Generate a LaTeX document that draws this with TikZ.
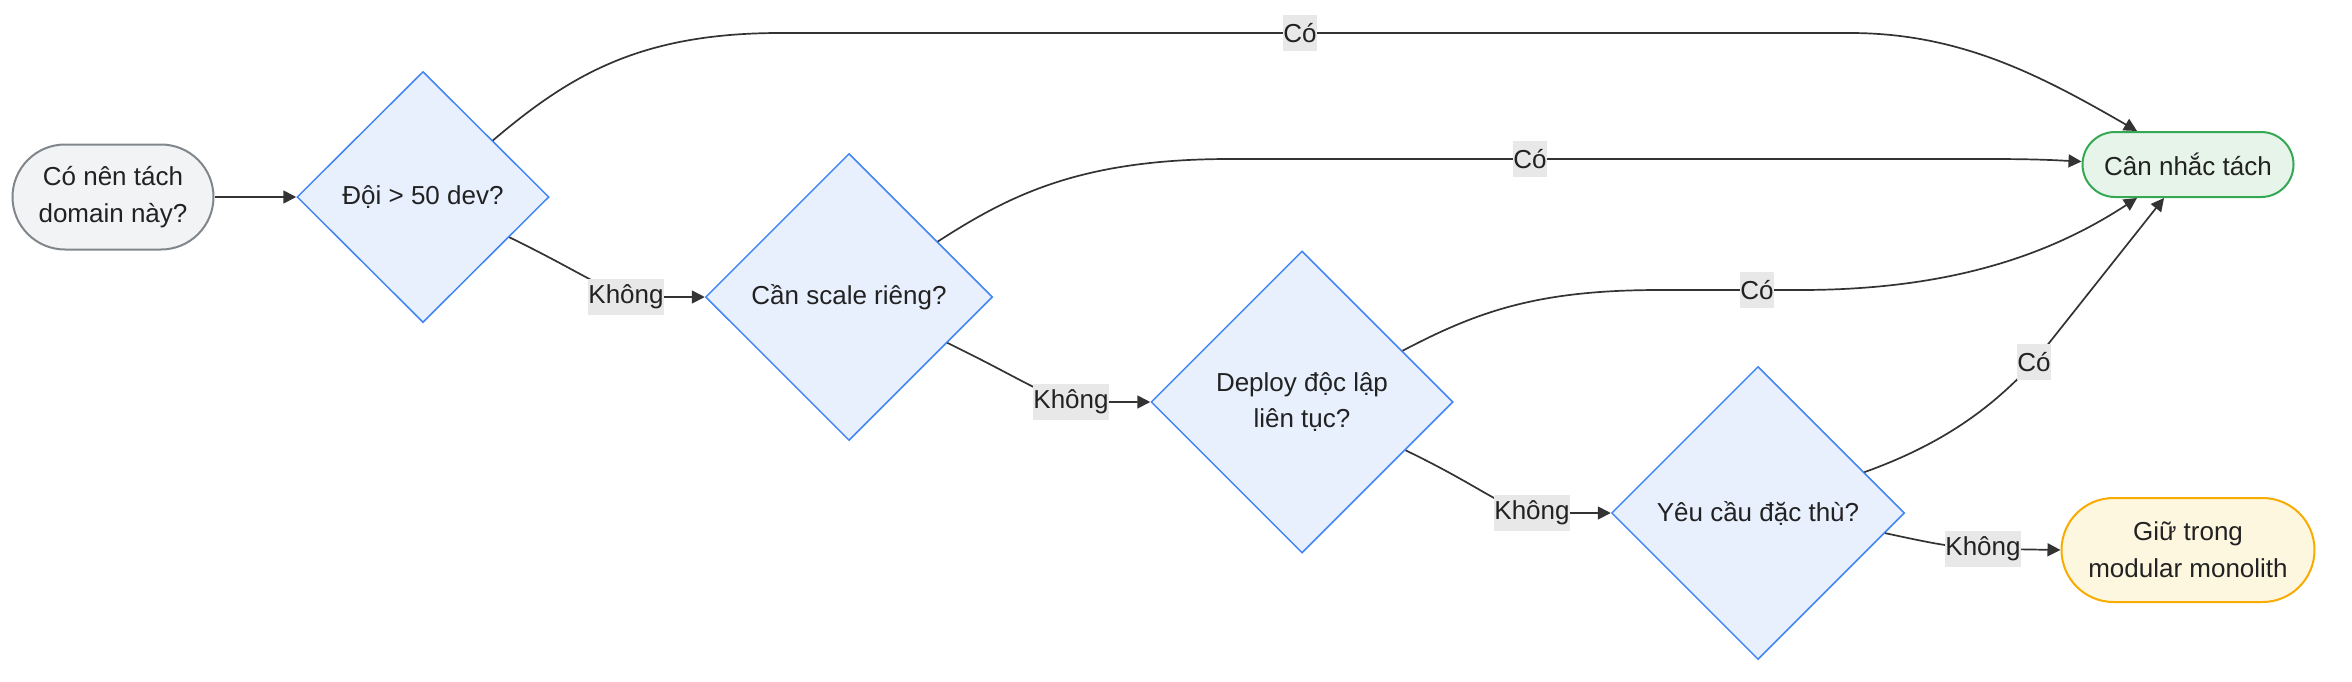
\documentclass[tikz,border=0pt]{standalone}
\usepackage{fontspec}
\setmainfont{Liberation Sans}
\usetikzlibrary{shapes.geometric,arrows.meta,calc}
\definecolor{textc}{HTML}{222222}
\definecolor{edgec}{HTML}{333333}
\definecolor{diafill}{HTML}{E8F0FE}
\definecolor{diadraw}{HTML}{4285F4}
\definecolor{startfill}{HTML}{F1F3F4}
\definecolor{startdraw}{HTML}{80868B}
\definecolor{yesfill}{HTML}{E6F4EA}
\definecolor{yesdraw}{HTML}{34A853}
\definecolor{keepfill}{HTML}{FEF7E0}
\definecolor{keepdraw}{HTML}{F9AB00}
\definecolor{labelbg}{HTML}{E8E8E8}
\begin{document}
\begin{tikzpicture}[x=0.5pt,y=-0.5pt,
  every node/.style={text=textc, font=\fontsize{13}{18.4}\selectfont, align=center},
  dia/.style={diamond, draw=diadraw, fill=diafill, line width=0.75pt, inner sep=0pt, shape aspect=1},
  stad/.style={rectangle, line width=1pt, inner sep=0pt},
  edge/.style={draw=edgec, line width=0.85pt, -{Triangle[length=6.5pt,width=6.5pt]}},
  lbl/.style={fill=labelbg, inner xsep=0.4pt, inner ysep=0pt, minimum height=18pt, font=\fontsize{13}{15}\selectfont}
]
\useasboundingbox[fill=white] (0,0) rectangle (2352,681);

% nodes
\node[stad, draw=startdraw, fill=startfill, minimum width=100.5pt, minimum height=52.5pt, rounded corners=26.25pt] (start) at (113,197) {Có nên tách\\domain này?};
\node[dia, minimum width=126pt, minimum height=125.5pt] (d1) at (423,197) {Đội > 50 dev?};
\node[dia, minimum width=143.5pt, minimum height=143.5pt] (d2) at (849,297) {Cần scale riêng?};
\node[dia, minimum width=151pt, minimum height=151pt] (d3) at (1302,402) {Deploy độc lập\\liên tục?};
\node[dia, minimum width=146.5pt, minimum height=146.5pt] (d4) at (1758,513) {Yêu cầu đặc thù?};
\node[stad, draw=yesdraw, fill=yesfill, minimum width=105.5pt, minimum height=32.5pt, rounded corners=16.25pt] (can) at (2188,164.5) {Cân nhắc tách};
\node[stad, draw=keepdraw, fill=keepfill, minimum width=126.5pt, minimum height=52pt, rounded corners=26pt] (giu) at (2188,550) {Giữ trong\\modular monolith};

% edges
\draw[edge] (start.east) -- (d1.west);

\draw[edge] (d1.39) .. controls (570,75) and (640,33) .. (780,33) -- (1850,33)
  .. controls (1960,33) and (2040,75) .. ($(can.north)+(-51,0)$);

\draw[edge] (d1.-25) .. controls (597,280) and (610,297) .. (650,297) -- (d2.west);

\draw[edge] (d2.32) .. controls (1010,195) and (1080,159) .. (1230,159) -- (1990,159)
  .. controls (2040,159) and (2060,160.5) .. ($(can.west)+(0,-3)$);

\draw[edge] (d2.-25) .. controls (1038,387) and (1050,402) .. (1090,402) -- (d3.west);

\draw[edge] (d3.27) .. controls (1480,310) and (1540,290) .. (1660,290) -- (1800,290)
  .. controls (1950,290) and (2050,255) .. ($(can.south)+(-51,0)$);

\draw[edge] (d3.-25) .. controls (1494,493) and (1505,513) .. (1545,513) -- (d4.west);

\draw[edge] (d4.21) .. controls (1940,445) and (1990,410) .. (2034,362) -- ($(can.south)+(-24,0)$);

\draw[edge] (d4.-9) .. controls (1940,545) and (1960,549) .. (2000,549) -- (giu.west);

% labels
\node[lbl] (l1) at (1300,33) {Có};
\node[lbl] (l2) at (626,297) {Không};
\node[lbl] (l3) at (1530,159) {Có};
\node[lbl] (l4) at (1071,402) {Không};
\node[lbl] (l5) at (1757,290) {Có};
\node[lbl] (l6) at (1532,513) {Không};
\node[lbl] (l7) at (2034,362) {Có};
\node[lbl] (l8) at (1983,549) {Không};
\end{tikzpicture}
\end{document}
